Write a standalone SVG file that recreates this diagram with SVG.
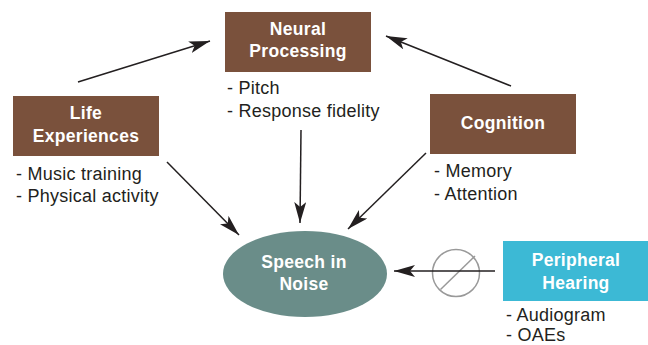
<svg xmlns="http://www.w3.org/2000/svg" width="648" height="345" viewBox="0 0 648 345">
<defs>
<style>
.box{fill:#7a513c}
.title{font-family:"Liberation Sans",Arial,sans-serif;font-weight:bold;font-size:17.5px;fill:#fff;text-anchor:middle;letter-spacing:0.3px}
.sub{font-family:"Liberation Sans",Arial,sans-serif;font-size:18px;fill:#231f20;letter-spacing:0.25px}
.conn{stroke:#231f20;stroke-width:1.5;fill:none;marker-end:url(#ah)}
</style>
<marker id="ah" viewBox="0 0 21 12" refX="21" refY="6" markerWidth="21" markerHeight="12" markerUnits="userSpaceOnUse" orient="auto">
<path d="M0,0 L21,6 L0,12 L5,6 Z" fill="#231f20"/>
</marker>
</defs>
<rect width="648" height="345" fill="#fff"/>
<g id="connectors">
<line class="conn" x1="78" y1="82" x2="210" y2="41"/>
<line class="conn" x1="511" y1="86" x2="386" y2="36"/>
<line class="conn" x1="167" y1="162" x2="239" y2="235"/>
<line class="conn" x1="301" y1="130" x2="300" y2="223"/>
<line class="conn" x1="426" y1="153" x2="348" y2="229"/>
<g id="blocked">
<circle cx="456" cy="273" r="23.5" fill="none" stroke="#999" stroke-width="1.5"/>
<line x1="440.5" y1="289.5" x2="475" y2="256" stroke="#999" stroke-width="1.5"/>
<line class="conn" x1="495" y1="271" x2="394" y2="271"/>
</g>
</g>
<g id="neural">
<rect class="box" x="225" y="12" width="146" height="60"/>
<text class="title" x="298" y="35">Neural</text>
<text class="title" x="298" y="57">Processing</text>
<text class="sub" x="227" y="94">- Pitch</text>
<text class="sub" x="227" y="117">- Response fidelity</text>
</g>
<g id="life">
<rect class="box" x="13" y="96" width="146" height="60"/>
<text class="title" x="86" y="119">Life</text>
<text class="title" x="86" y="142">Experiences</text>
<text class="sub" x="16" y="180">- Music training</text>
<text class="sub" x="16" y="202">- Physical activity</text>
</g>
<g id="cognition">
<rect class="box" x="430" y="94" width="146" height="60"/>
<text class="title" x="503" y="129">Cognition</text>
<text class="sub" x="434" y="177">- Memory</text>
<text class="sub" x="434" y="200">- Attention</text>
</g>
<g id="speech">
<ellipse cx="305" cy="274" rx="82" ry="43" fill="#6a8d89"/>
<text class="title" x="304" y="268">Speech in</text>
<text class="title" x="304" y="290">Noise</text>
</g>
<g id="peripheral">
<rect x="503" y="241" width="146" height="60" fill="#3cb9d5"/>
<text class="title" x="576" y="266">Peripheral</text>
<text class="title" x="576" y="289">Hearing</text>
<text class="sub" x="506" y="321">- Audiogram</text>
<text class="sub" x="506" y="341">- OAEs</text>
</g>
</svg>
